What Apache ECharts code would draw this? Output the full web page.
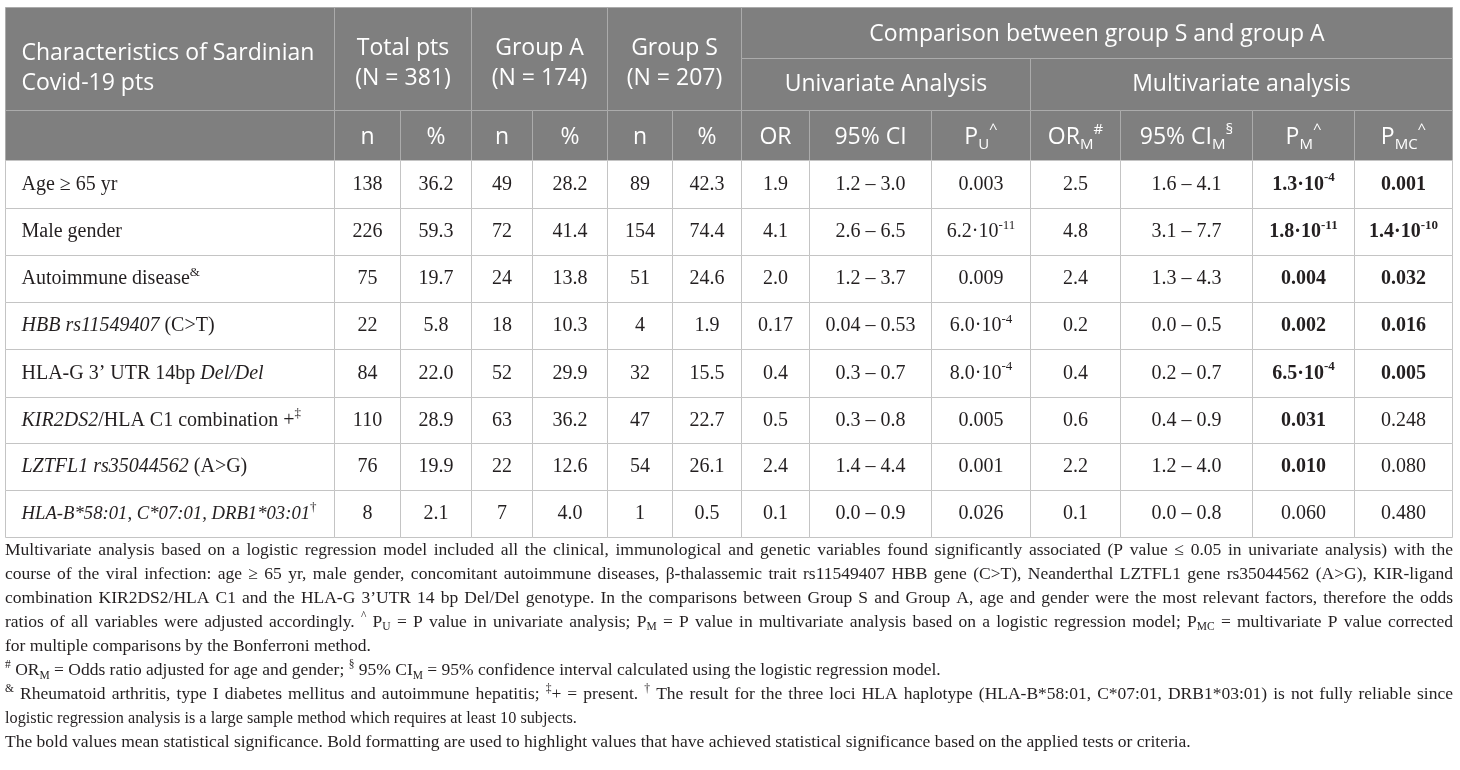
<!DOCTYPE html>
<html>
<head>
<meta charset="utf-8">
<title>Sardinian Covid-19 patients</title>
<script src="https://cdn.jsdelivr.net/npm/echarts@6.0.0/dist/echarts.min.js"></script>
<style>
  html, body { margin: 0; padding: 0; background: #fff; }
  #chart { width: 1460px; height: 770px; }
</style>
</head>
<body>
<div id="chart"></div>
<script>
// --- table values -----------------------------------------------------------

var rowLabels = [
	'{n|Age ≥ 65 yr}',
	'{n|Male gender}',
	'{n|Autoimmune disease}{sup|&}',
	'{i|HBB rs11549407}{n| (C>T)}',
	'{n|HLA-G 3’ UTR 14bp }{i|Del/Del}',
	'{i|KIR2DS2}{n|/HLA C1 combination +}{sup|‡}',
	'{i|LZTFL1 rs35044562}{n| (A>G)}',
	'{ic|HLA-B*58:01, C*07:01, DRB1*03:01}{sup|†}'
];

var groupHeaders = ['Total pts\n(N = 381)', 'Group A\n(N = 174)', 'Group S\n(N = 207)'];
var statHeaders = ['OR', '95% CI', 'P{sub|U}{sup|^}', 'OR{sub|M}{sup|#}', '95% CI{sub|M}{sup|§}', 'P{sub|M}{sup|^}', 'P{sub|MC}{sup|^}'];

var totalN    = [138, 226, 75, 22, 84, 110, 76, 8];
var totalPct  = [36.2, 59.3, 19.7, 5.8, 22.0, 28.9, 19.9, 2.1];
var groupAN   = [49, 72, 24, 18, 52, 63, 22, 7];
var groupAPct = [28.2, 41.4, 13.8, 10.3, 29.9, 36.2, 12.6, 4.0];
var groupSN   = [89, 154, 51, 4, 32, 47, 54, 1];
var groupSPct = [42.3, 74.4, 24.6, 1.9, 15.5, 22.7, 26.1, 0.5];

var orU  = ['1.9', '4.1', '2.0', '0.17', '0.4', '0.5', '2.4', '0.1'];
var ciU  = ['1.2 – 3.0', '2.6 – 6.5', '1.2 – 3.7', '0.04 – 0.53', '0.3 – 0.7', '0.3 – 0.8', '1.4 – 4.4', '0.0 – 0.9'];
var pU   = ['0.003', '6.2e-11', '0.009', '6.0e-4', '8.0e-4', '0.005', '0.001', '0.026'];
var orM  = ['2.5', '4.8', '2.4', '0.2', '0.4', '0.6', '2.2', '0.1'];
var ciM  = ['1.6 – 4.1', '3.1 – 7.7', '1.3 – 4.3', '0.0 – 0.5', '0.2 – 0.7', '0.4 – 0.9', '1.2 – 4.0', '0.0 – 0.8'];
var pM   = ['1.3e-4', '1.8e-11', '0.004', '0.002', '6.5e-4', '0.031', '0.010', '0.060'];
var pMC  = ['0.001', '1.4e-10', '0.032', '0.016', '0.005', '0.248', '0.080', '0.480'];
var pMBold  = [1, 1, 1, 1, 1, 1, 1, 0];
var pMCBold = [1, 1, 1, 1, 1, 0, 0, 0];

var footnotes = [
	'Multivariate analysis based on a logistic regression model included all the clinical, immunological and genetic variables found significantly associated (P value ≤ 0.05 in univariate analysis) with the',
	'course of the viral infection: age ≥ 65 yr, male gender, concomitant autoimmune diseases, β-thalassemic trait rs11549407 HBB gene (C>T), Neanderthal LZTFL1 gene rs35044562 (A>G), KIR-ligand',
	'combination KIR2DS2/HLA C1 and the HLA-G 3’UTR 14 bp Del/Del genotype. In the comparisons between Group S and Group A, age and gender were the most relevant factors, therefore the odds',
	'ratios of all variables were adjusted accordingly. {s|^} P{d|U} = P value in univariate analysis; P{d|M} = P value in multivariate analysis based on a logistic regression model; P{d|MC} = multivariate P value corrected',
	'for multiple comparisons by the Bonferroni method.',
	'{s|#} OR{d|M} = Odds ratio adjusted for age and gender; {s|§} 95% CI{d|M} = 95% confidence interval calculated using the logistic regression model.',
	'{s|&} Rheumatoid arthritis, type I diabetes mellitus and autoimmune hepatitis; {s|‡}+ = present. {s|†} The result for the three loci HLA haplotype (HLA-B*58:01, C*07:01, DRB1*03:01) is not fully reliable since',
	'logistic regression analysis is a large sample method which requires at least 10 subjects.',
	'The bold values mean statistical significance. Bold formatting are used to highlight values that have achieved statistical significance based on the applied tests or criteria.'
];
var justified = [1, 1, 1, 1, 0, 0, 1, 0, 0];
// the typeset original squeezes a couple of lines a little
var condense  = [1, 1, 1, 1, 1, 1, 1, 0.93, 1];

// --- layout -----------------------------------------------------------------

var colEdges = [5, 334, 400, 471, 532, 607, 672, 741, 809, 931, 1030, 1120, 1252, 1354, 1452];
var rowEdges = [7, 58, 109.5, 160, 207.5, 254.5, 301.5, 349, 396.5, 443, 490, 537];
var noteTop = 550, noteStep = 24.1, noteLeft = 5, noteRight = 1453;

var SERIF = "'Liberation Serif', 'DejaVu Serif', serif";
var SANS = "'Open Sans', 'Noto Sans', sans-serif";
var TEXT = '#231f20';
var HEAD_BG = '#7f7f7f';
var HEAD_LINE = '#ababab';
var GRID_LINE = '#c4c4c4';
var FN = 17.5;

var headRich = {
	sub: { fontFamily: SANS, fontSize: 15, fill: '#fff', verticalAlign: 'bottom', lineHeight: 15 },
	sup: { fontFamily: SANS, fontSize: 15, fill: '#fff', verticalAlign: 'top', lineHeight: 15 }
};
var bodyRich = {
	n:    { fontFamily: SERIF, fontSize: 20, fill: TEXT, lineHeight: 26 },
	i:    { fontFamily: SERIF, fontSize: 20, fill: TEXT, lineHeight: 26, fontStyle: 'italic' },
	ic:   { fontFamily: SERIF, fontSize: 18.7, fill: TEXT, lineHeight: 26, fontStyle: 'italic' },
	b:    { fontFamily: SERIF, fontSize: 20, fill: TEXT, lineHeight: 26, fontWeight: 'bold' },
	sup:  { fontFamily: SERIF, fontSize: 13, fill: TEXT, lineHeight: 12, verticalAlign: 'top' },
	bsup: { fontFamily: SERIF, fontSize: 13, fill: TEXT, lineHeight: 12, verticalAlign: 'top', fontWeight: 'bold' }
};

// --- build cells ------------------------------------------------------------

var cells = [];
function addCell(c0, c1, r0, r1, text, opts) {
	opts = opts || {};
	cells.push({ c0: c0, c1: c1, r0: r0, r1: r1, text: text, head: !!opts.head, align: opts.align || 'center', dy: opts.dy || 0 });
}

function fmtP(s, bold) {
	var st = bold ? 'b' : 'n';
	if (s.indexOf('e') < 0) return '{' + st + '|' + s + '}';
	var m = s.split('e');
	return '{' + st + '|' + m[0] + '·10}{' + (bold ? 'bsup' : 'sup') + '|' + m[1] + '}';
}

addCell(0, 1, 0, 2, 'Characteristics of Sardinian\nCovid-19 pts', { head: true, align: 'left', dy: 9 });
groupHeaders.forEach(function (h, k) {
	addCell(1 + 2 * k, 3 + 2 * k, 0, 2, h, { head: true, dy: 4 });
});
addCell(7, 14, 0, 1, 'Comparison between group S and group A', { head: true, dy: 1 });
addCell(7, 10, 1, 2, 'Univariate Analysis', { head: true });
addCell(10, 14, 1, 2, 'Multivariate analysis', { head: true });
addCell(0, 1, 2, 3, '', { head: true });
for (var k = 0; k < 3; k++) {
	addCell(1 + 2 * k, 2 + 2 * k, 2, 3, 'n', { head: true, dy: 2 });
	addCell(2 + 2 * k, 3 + 2 * k, 2, 3, '%', { head: true, dy: 2 });
}
statHeaders.forEach(function (h, k) {
	addCell(7 + k, 8 + k, 2, 3, h, { head: true, dy: 2 });
});

rowLabels.forEach(function (label, i) {
	var r = 3 + i;
	addCell(0, 1, r, r + 1, label, { align: 'left' });
	var vals = [
		'{n|' + totalN[i] + '}', '{n|' + totalPct[i].toFixed(1) + '}',
		'{n|' + groupAN[i] + '}', '{n|' + groupAPct[i].toFixed(1) + '}',
		'{n|' + groupSN[i] + '}', '{n|' + groupSPct[i].toFixed(1) + '}',
		'{n|' + orU[i] + '}', '{n|' + ciU[i] + '}', fmtP(pU[i], false),
		'{n|' + orM[i] + '}', '{n|' + ciM[i] + '}', fmtP(pM[i], pMBold[i]), fmtP(pMC[i], pMCBold[i])
	];
	vals.forEach(function (v, c) {
		addCell(c + 1, c + 2, r, r + 1, v);
	});
});

function renderCell(params, api) {
	var cell = cells[params.dataIndex];
	var p0 = api.coord([colEdges[cell.c0], rowEdges[cell.r0]]);
	var p1 = api.coord([colEdges[cell.c1], rowEdges[cell.r1]]);
	var x0 = Math.round(p0[0]) + 0.5, y0 = Math.round(p0[1]) + 0.5;
	var x1 = Math.round(p1[0]) + 0.5, y1 = Math.round(p1[1]) + 0.5;
	var children = [{
		type: 'rect',
		shape: { x: x0, y: y0, width: x1 - x0, height: y1 - y0 },
		style: { fill: cell.head ? HEAD_BG : '#fff', stroke: cell.head ? HEAD_LINE : GRID_LINE, lineWidth: 1 }
	}];
	if (cell.text) {
		var left = cell.align === 'left';
		children.push({
			type: 'text',
			style: {
				text: cell.text,
				x: left ? x0 + 16 : (x0 + x1) / 2,
				y: (y0 + y1) / 2 + cell.dy,
				align: left ? 'left' : 'center',
				verticalAlign: 'middle',
				fill: cell.head ? '#fff' : TEXT,
				fontFamily: cell.head ? SANS : SERIF,
				fontSize: cell.head ? 23 : 20,
				lineHeight: cell.head ? 30 : 26,
				rich: cell.head ? headRich : bodyRich
			}
		});
	}
	return { type: 'group', children: children };
}

// --- footnotes: word by word so the justified lines fill the width ---------

var measureCtx = document.createElement('canvas').getContext('2d');
function segFont(style) {
	var size = style === 'f' ? FN : 11.5;
	return size + 'px ' + SERIF;
}
function parseSegs(str) {
	var segs = [], re = /\{(\w+)\|([^}]*)\}|([^{]+)/g, m;
	while ((m = re.exec(str))) segs.push(m[1] ? [m[1], m[2]] : ['f', m[3]]);
	return segs;
}
function splitWords(segs) {
	var words = [], cur = [];
	segs.forEach(function (s) {
		s[1].split(' ').forEach(function (p, k) {
			if (k > 0 && cur.length) { words.push(cur); cur = []; }
			if (p) cur.push([s[0], p]);
		});
	});
	if (cur.length) words.push(cur);
	return words;
}
function textWidth(style, txt) {
	measureCtx.font = segFont(style);
	return measureCtx.measureText(txt).width;
}

var noteElements = [];
footnotes.forEach(function (line, li) {
	var sc = condense[li];
	var words = splitWords(parseSegs(line));
	var widths = words.map(function (w) {
		return sc * w.reduce(function (s, seg) { return s + textWidth(seg[0], seg[1]); }, 0);
	});
	var total = widths.reduce(function (a, b) { return a + b; }, 0);
	var gap = justified[li] ? (noteRight - noteLeft - total) / (words.length - 1) : sc * textWidth('f', ' ');
	var x = noteLeft;
	var y = noteTop + li * noteStep;
	words.forEach(function (w, wi) {
		var sx = x;
		w.forEach(function (seg) {
			var dy = seg[0] === 's' ? -6 : (seg[0] === 'd' ? 5 : 0);
			noteElements.push({
				type: 'text',
				x: sx,
				y: y + dy,
				scaleX: sc,
				silent: true,
				style: { text: seg[1], font: segFont(seg[0]), fill: TEXT, align: 'left', verticalAlign: 'middle' }
			});
			sx += sc * textWidth(seg[0], seg[1]);
		});
		x += widths[wi] + gap;
	});
});

// --- chart ------------------------------------------------------------------

var chart = echarts.init(document.getElementById('chart'), null, { renderer: 'canvas' });

chart.setOption({
	animation: false,
	backgroundColor: '#fff',
	grid: { left: 0, right: 0, top: 0, bottom: 0 },
	xAxis: { type: 'value', min: 0, max: 1460, show: false },
	yAxis: { type: 'value', min: 0, max: 770, inverse: true, show: false },
	series: [{
		type: 'custom',
		silent: true,
		renderItem: renderCell,
		data: cells.map(function (c) { return [c.c0, c.c1, c.r0, c.r1]; })
	}],
	graphic: { elements: noteElements }
});
</script>
</body>
</html>
